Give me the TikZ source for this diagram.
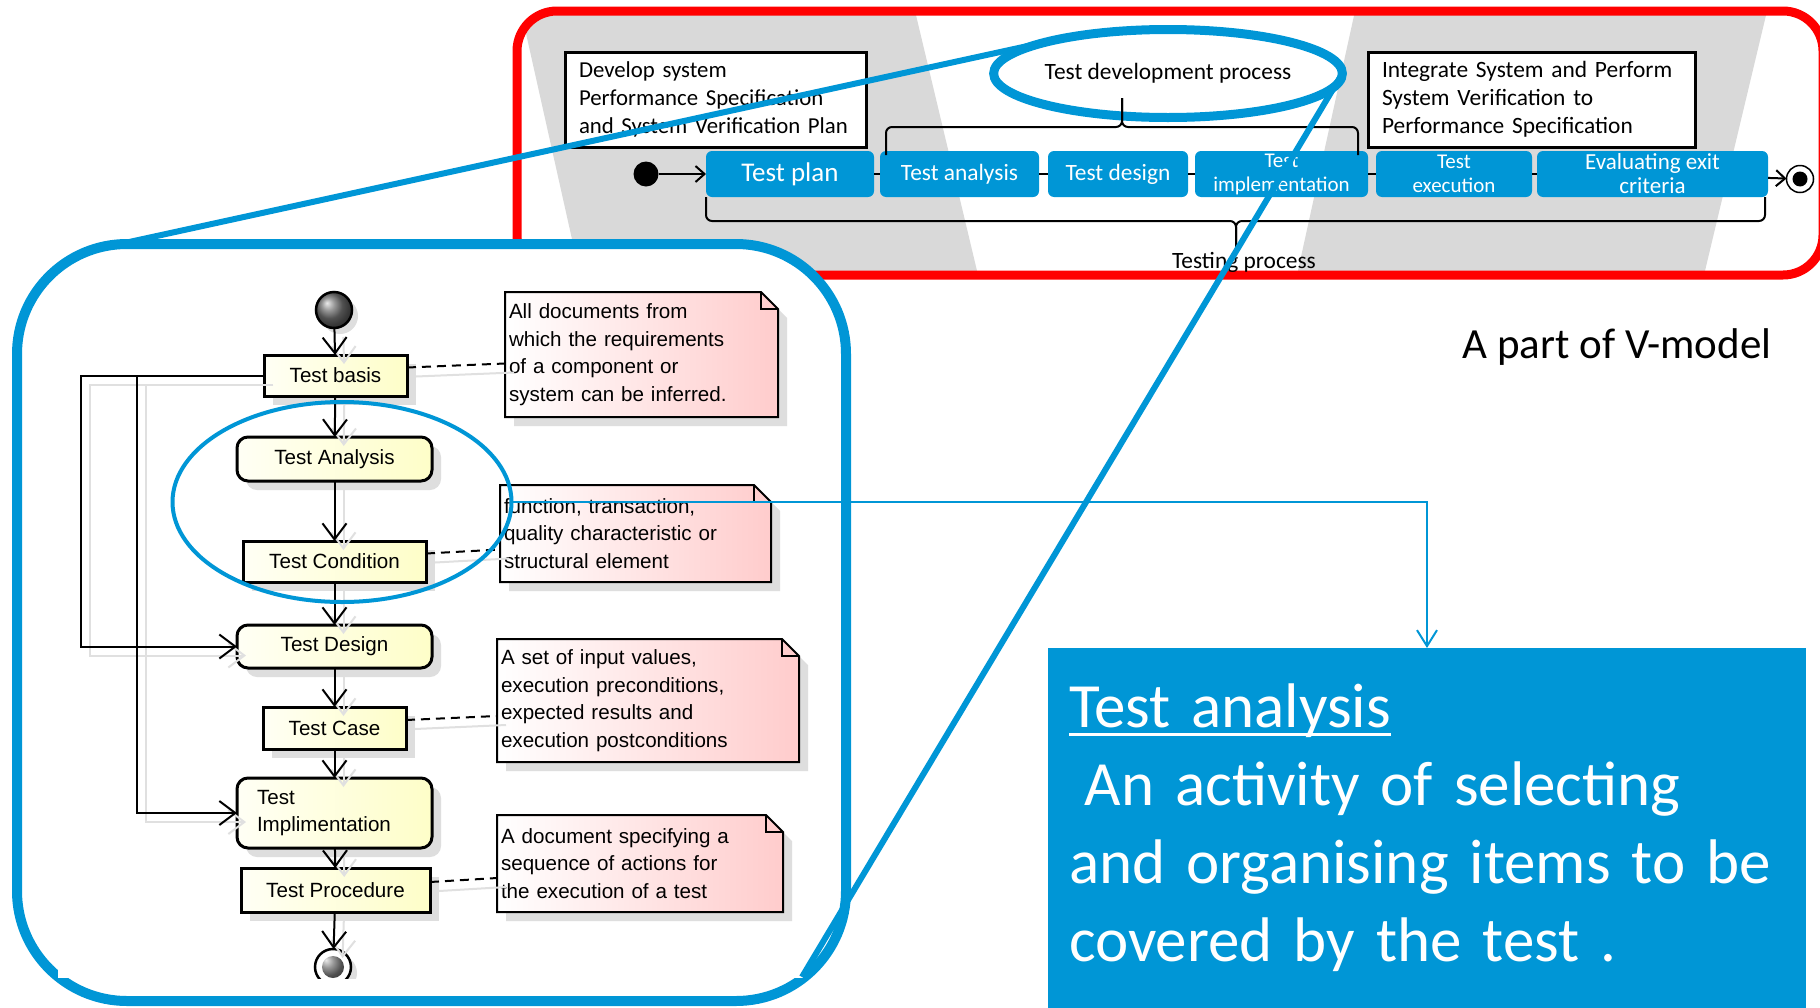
\documentclass[tikz,border=0pt]{standalone}
\usepackage{fontspec}
\setmainfont{Carlito}
\newfontfamily\umlfont{Liberation Sans}
\usetikzlibrary{positioning,shapes.geometric,arrows.meta,calc,shadows,backgrounds}
\pgfdeclarelayer{paper}
\pgfsetlayers{background,paper,main}

\begin{document}
\begin{tikzpicture}[
  x=1pt, y=-1pt,
  every node/.style={outer sep=0pt},
  stepblue/.style={fill=hpblue, text=white, rounded corners=6pt, inner sep=0pt,
    minimum height=46pt, align=center, font=\fontsize{23.4}{24}\selectfont},
  vframe/.style={draw=black, line width=3pt, fill=white, inner xsep=14pt, inner ysep=0pt,
    minimum height=95pt, align=left, font=\fontsize{23.4}{28}\selectfont},
  vlink/.style={draw=black, line width=2pt},
  vflow/.style={vlink, -{Straight Barb[length=9pt,width=16pt]}},
  bracket/.style={draw=black, line width=2pt, rounded corners=6pt},
  umlbox/.style={draw=black, line width=3pt, left color=yellow!4, right color=umlcream,
    font=\umlfont\fontsize{20.6}{27.5}\selectfont, inner sep=0pt,
    drop shadow={shadow xshift=9pt, shadow yshift=-9pt, fill=black!13, opacity=1}},
  umlact/.style={umlbox, rounded corners=11pt},
  note/.style={inner xsep=4pt, inner ysep=0pt, align=left,
    font=\umlfont\fontsize{20.6}{27.5}\selectfont},
  flow/.style={draw=black, line width=2pt, -{Straight Barb[length=16pt,width=24pt]}},
  ghost/.style={draw=black!12, line width=2pt, transform canvas={shift={(9pt,-9pt)}}},
  notelink/.style={draw=black, line width=2pt, dash pattern=on 9pt off 6pt},
]
%-------------------------------------------------------------
\definecolor{hpblue}{RGB}{0,150,214}
\definecolor{vgray}{RGB}{217,217,217}
\definecolor{umlpink}{RGB}{255,204,204}
\definecolor{umlcream}{RGB}{254,254,200}
\newsavebox{\titlebox}
\newcommand{\tauline}[1]{\sbox{\titlebox}{#1}\rlap{\rule[-8pt]{\wd\titlebox}{3pt}}\usebox{\titlebox}}
\newcommand{\notepaper}[1]{
  \fill[black!13] ($(#1.north west)+(9,9)$) -- ($(#1.north east)+(-8,9)$) -- ($(#1.north east)+(9,26)$)
    -- ($(#1.south east)+(9,9)$) -- ($(#1.south west)+(9,9)$) -- cycle;
  \shade[left color=white, right color=umlpink, draw=black, line width=2pt]
    (#1.north west) -- ($(#1.north east)+(-17,0)$) -- ($(#1.north east)+(0,17)$)
    -- (#1.south east) -- (#1.south west) -- cycle;
  \draw[line width=2pt] ($(#1.north east)+(-17,0)$) |- ($(#1.north east)+(0,17)$);
}

\useasboundingbox (0,0) rectangle (1820,1007);

%============================================================
\begin{pgfonlayer}{background}
\begin{scope}
  \clip[rounded corners=40pt] (517,11) rectangle (1823,275);
  \fill[vgray] (521,11) -- (915,11) -- (978,275) -- (580,275) -- cycle;
  \fill[vgray] (1355,11) -- (1767,11) -- (1704,275) -- (1297,275) -- cycle;
\end{scope}
\draw[red, line width=9pt, rounded corners=40pt] (517,11) rectangle (1823,275);
\node[draw=hpblue, line width=10pt, fill=white, rounded corners=110pt,
  minimum width=829pt, minimum height=757pt] (zoomframe) at (431.5,622.5) {};
\fill[white] (58,280) rectangle (803,978);
\end{pgfonlayer}

%============================================================
\node[vframe, text width=273pt, font=\fontsize{22.8}{28}\selectfont] (devplan) at (715.5,99.5)
  {Develop system\\Performance Specification\\and System Verification Plan};
\node[vframe, text width=299pt] (intverif) at (1531.5,99.5)
  {Integrate System and Perform\\System Verification to\\Performance Specification};

\node[stepblue, minimum width=168pt, font=\fontsize{27}{28}\selectfont] (tplan) at (790,174) {Test plan};
\node[stepblue, minimum width=159pt, right=6pt of tplan] (tanalysis) {Test analysis};
\node[stepblue, minimum width=140pt, right=9pt of tanalysis] (tdesign) {Test design};
\node[stepblue, minimum width=173pt, right=7pt of tdesign, font=\fontsize{21}{24}\selectfont] (timpl) {Test\\implementation};
\node[stepblue, minimum width=156pt, right=8pt of timpl, font=\fontsize{21}{24}\selectfont] (texec) {Test\\execution};
\node[stepblue, minimum width=231pt, right=5pt of texec, font=\fontsize{23}{24}\selectfont] (teval) {Evaluating exit\\criteria};

\node[circle, fill=black, minimum size=25pt, inner sep=0pt] (vstart) at (646,174) {};
\node[circle, draw=black, line width=1.5pt, fill=white, minimum size=27pt, inner sep=0pt] (vend) at (1800,179) {};
\node[circle, fill=black, minimum size=15pt, inner sep=0pt] (vendcore) at (vend) {};

\draw[vflow] (vstart) -- (tplan);
\draw[vlink] (tplan) -- (tanalysis);
\draw[vlink] (tanalysis) -- (tdesign);
\draw[vlink] (tdesign) -- (timpl);
\draw[vlink] (timpl) -- (texec);
\draw[vlink] (texec) -- (teval);
\draw[vflow] (teval) -- (vend);

\node[ellipse, draw=hpblue, line width=9pt, minimum width=330pt, minimum height=88pt, inner sep=0pt,
  font=\fontsize{23.4}{24}\selectfont] (tdp) at (1168,73.5) {Test development process};
\coordinate (tdpjoin) at (1122,127);
\coordinate (tdptip) at (1122,98);
\draw[bracket] ([xshift=6pt,yshift=-4pt]tanalysis.north west) |- (tdpjoin) -- (tdptip);
\draw[bracket] ([xshift=-10pt,yshift=-4pt]timpl.north east) |- (tdpjoin) -- (tdptip);

\coordinate (tpjoin) at (1236,221);
\coordinate (tptip) at (1236,250);
\draw[bracket] (tplan.south west) |- (tpjoin) -- (tptip);
\draw[bracket] ([xshift=-3pt]teval.south east) |- (tpjoin) -- (tptip);
\node[font=\fontsize{23.4}{24}\selectfont] (tproc) at (1244,262) {Testing process};

\node[font=\fontsize{43}{44}\selectfont] (vcaption) at (1617,347) {A part of V-model};

%============================================================
\node[circle, draw=black, line width=2.5pt, minimum size=36pt, inner sep=0pt, ball color=black!55,
  drop shadow={shadow xshift=6pt, shadow yshift=-6pt, fill=black!13, opacity=1}] (init) at (334,310) {};
\node[umlbox, minimum width=143pt, minimum height=41pt] (basis) at (335.5,375.5) {Test basis};
\node[umlact, minimum width=195pt, minimum height=44pt] (analysis) at (334.5,459) {Test Analysis};
\node[umlbox, minimum width=183pt, minimum height=41pt] (cond) at (334.5,561.5) {Test Condition};
\node[umlact, minimum width=195pt, minimum height=43pt] (design) at (334.5,646.5) {Test Design};
\node[umlbox, minimum width=143pt, minimum height=42pt] (case) at (334.5,728) {Test Case};
\node[umlact, minimum width=195pt, minimum height=70pt, text width=155pt, align=left] (impl) at (334.5,813) {Test\\Implimentation};
\node[umlbox, minimum width=189pt, minimum height=44pt] (proc) at (335.5,890) {Test Procedure};
\begin{scope}
\clip (0,0) rectangle (1820,978);
\node[circle, draw=black, line width=2.5pt, fill=white, minimum size=36pt, inner sep=0pt,
  drop shadow={shadow xshift=6pt, shadow yshift=-6pt, fill=black!13, opacity=1},
  path picture={\shade[ball color=black!55] (path picture bounding box.center) circle (11pt);}] (final) at (333,967) {};
\end{scope}

\foreach \a/\b in {init/basis, basis/analysis, analysis/cond, cond/design, design/case, case/impl, impl/proc, proc/final}{
  \draw[ghost, -{Straight Barb[length=16pt,width=24pt]}] (\a) -- (\b);
  \draw[flow] (\a) -- (\b);
}
\draw[ghost, -{Straight Barb[length=16pt,width=24pt]}] (basis.west) -- ++(-183,0) |- (design.west);
\draw[ghost, -{Straight Barb[length=16pt,width=24pt]}] (basis.west) -- ++(-127,0) |- (impl.west);
\draw[flow] (basis.west) -- ++(-183,0) |- (design.west);
\draw[flow] (basis.west) -- ++(-127,0) |- (impl.west);

\node[note, text width=265pt, minimum height=125pt] (docbasis) at (641.5,354.5)
  {All documents from\\which the requirements\\of a component or\\system can be inferred.};
\node[note, text width=263pt, minimum height=97pt] (doccond) at (635.5,533.5)
  {function, transaction,\\quality characteristic or\\structural element};
\node[note, text width=294pt, minimum height=123pt] (doccase) at (648,700.5)
  {A set of input values,\\execution preconditions,\\expected results and\\execution postconditions};
\node[note, text width=278pt, minimum height=97pt] (docproc) at (640,863.5)
  {A document specifying a\\sequence of actions for\\the execution of a test};

\begin{pgfonlayer}{paper}
\foreach \n in {docbasis,doccond,doccase,docproc}{\notepaper{\n}}
\end{pgfonlayer}

\foreach \a/\b in {basis/docbasis, cond/doccond, case/doccase, proc/docproc}{
  \draw[ghost] ($(\a.east)+(0,-8)$) -- ($(\a.east -| \b.west)+(0,-12)$);
  \draw[notelink] ($(\a.east)+(0,-8)$) -- ($(\a.east -| \b.west)+(0,-12)$);
}

%============================================================
\node[anchor=north west, fill=hpblue, text=white, text width=716pt, inner xsep=21pt, inner ysep=36pt,
  align=left, font=\fontsize{63}{78}\selectfont] (defbox) at (1048,648)
  {\tauline{Test analysis}\\\hspace*{0.25em}An activity of selecting\\and organising items to be\\covered by the test .};

\node[ellipse, draw=hpblue, line width=4pt, minimum width=339pt, minimum height=200pt, inner sep=0pt] (focus) at (342,502) {};
\draw[hpblue, line width=2pt, -{Straight Barb[length=16pt,width=20pt]}] (focus.east) -| (defbox.north);

\draw[hpblue, line width=6pt] (tdp.165) -- ([xshift=103pt]zoomframe.north west);
\draw[hpblue, line width=6pt] (tdp.east) -- ([xshift=-44pt,yshift=24pt]zoomframe.south east);

\end{tikzpicture}
\end{document}
